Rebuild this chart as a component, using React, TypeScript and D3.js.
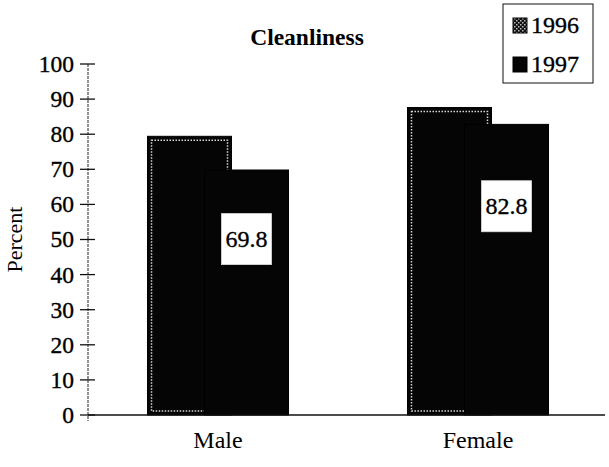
import React from "react";
import * as d3 from "d3";

const categories = ["Male", "Female"];
const seriesNames = ["1996", "1997"];
const values1996 = [79.4, 87.6];
const values1997 = [69.8, 82.8];
const yTicks = [0, 10, 20, 30, 40, 50, 60, 70, 80, 90, 100];
const title = "Cleanliness";
const yLabel = "Percent";

const W = 609;
const H = 467;
const FONT = "Liberation Serif, Tinos, Times New Roman, DejaVu Serif, serif";

export default function App() {
  const y = d3.scaleLinear().domain([0, 100]).range([415, 64]);
  const x = d3.scaleBand<string>().domain(categories).range([88, 608]);
  const barW = 84;
  const offset = 57;
  const groupW = barW + offset;
  const series = [values1996, values1997];
  const ts = { fontFamily: FONT };
  const heavy = { stroke: "#000", strokeWidth: 0.35 };

  return (
    <svg
      width={W}
      height={H}
      style={{ position: "absolute", left: 0, top: 0, background: "#fff", fontFamily: FONT }}
    >
      <defs>
        <pattern id="speck" width="4" height="4" patternUnits="userSpaceOnUse">
          <rect width="4" height="4" fill="#111" />
          <rect x="0" y="0" width="1.5" height="1.5" fill="#bbb" />
          <rect x="2" y="2" width="1.5" height="1.5" fill="#bbb" />
        </pattern>
      </defs>

      <text x={307} y={45} textAnchor="middle" fontSize={23.5} fontWeight="bold" style={ts}>
        {title}
      </text>

      <line x1={88} x2={88} y1={y(100)} y2={y(0) + 6} stroke="#222" strokeWidth={1} strokeDasharray="3 1" />
      {yTicks.map((t) => (
        <g key={t}>
          <line x1={80} x2={95} y1={y(t)} y2={y(t)} stroke="#111" strokeWidth={1.3} />
          <text x={74} y={y(t)} dy="0.34em" textAnchor="end" fontSize={23.5} style={ts} {...heavy}>
            {t}
          </text>
        </g>
      ))}
      <text
        transform={`translate(22,${y(50)}) rotate(-90)`}
        textAnchor="middle"
        fontSize={22}
        style={ts}
      >
        {yLabel}
      </text>

      {categories.map((c, ci) => {
        const gx = (x(c) as number) + x.bandwidth() / 2 - groupW / 2;
        return (
          <g key={c}>
            {series.map((vals, si) => {
              const bx = gx + si * offset;
              const top = y(vals[ci]);
              const h = y(0) - top;
              return (
                <g key={si}>
                  <rect x={bx} y={top} width={barW} height={h} fill="#050505" stroke="#000" strokeWidth={1} />
                  {si === 0 && (
                    <rect
                      x={bx + 4}
                      y={top + 4}
                      width={barW - 8}
                      height={h - 8}
                      fill="none"
                      stroke="#d8d8d8"
                      strokeWidth={1.5}
                      strokeDasharray="1.5 1.5"
                    />
                  )}
                </g>
              );
            })}
            {(() => {
              const bx = gx + offset;
              const cx = bx + barW / 2;
              const cy = y(values1997[ci] * 0.72);
              return (
                <g>
                  <rect x={cx - 25} y={cy - 25} width={50} height={51} fill="#fff" stroke="#ddd" strokeWidth={0.8} />
                  <text x={cx} y={cy} dy="0.36em" textAnchor="middle" fontSize={24} style={ts} {...heavy}>
                    {values1997[ci].toFixed(1)}
                  </text>
                </g>
              );
            })()}
            <text x={(x(c) as number) + x.bandwidth() / 2} y={448} textAnchor="middle" fontSize={24} style={ts}>
              {c}
            </text>
          </g>
        );
      })}

      <line x1={88} x2={605} y1={y(0)} y2={y(0)} stroke="#111" strokeWidth={1.5} />

      <rect x={503} y={4} width={90} height={79} fill="#fff" stroke="#111" strokeWidth={1} />
      {seriesNames.map((s, i) => (
        <g key={s}>
          <rect
            x={513}
            y={18 + i * 39}
            width={14}
            height={15}
            fill={i === 0 ? "url(#speck)" : "#050505"}
            stroke="#000"
            strokeWidth={1}
          />
          <text x={531} y={33 + i * 39} fontSize={24} style={ts} {...heavy}>
            {s}
          </text>
        </g>
      ))}
    </svg>
  );
}
